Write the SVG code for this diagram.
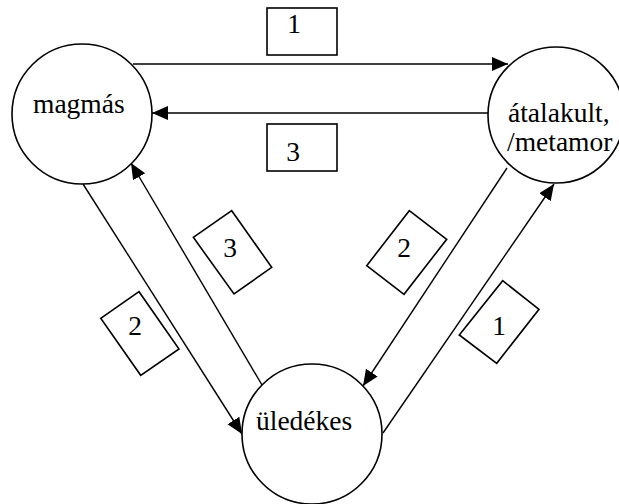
<svg xmlns="http://www.w3.org/2000/svg" width="619" height="504" viewBox="0 0 619 504">
<style>
.node{fill:#fff;stroke:#000;stroke-width:1.6}
text{font-family:'Liberation Serif','Times New Roman',Times,'DejaVu Serif',serif;font-size:27.5px;fill:#000}
.box{fill:#fff;stroke:#000;stroke-width:1.6}
.num{text-anchor:middle}
.edge{stroke:#000;stroke-width:1.4;fill:none;marker-end:url(#arr)}
</style>
<defs>
<marker id="arr" markerUnits="userSpaceOnUse" markerWidth="17" markerHeight="15" refX="16" refY="7" orient="auto">
<path d="M0,0 L16,7 L0,14 z" fill="#000"/>
</marker>
</defs>
<rect width="619" height="504" fill="#fff"/>
<g id="connectors">
<line class="edge" x1="133" y1="64" x2="508" y2="64"/>
<line class="edge" x1="488" y1="113" x2="152" y2="113"/>
<line class="edge" x1="83" y1="184" x2="242" y2="434"/>
<line class="edge" x1="262" y1="385" x2="131" y2="163"/>
<line class="edge" x1="507" y1="168" x2="363" y2="386"/>
<line class="edge" x1="383" y1="433" x2="554" y2="184"/>
</g>
<g id="node-magmas">
<circle class="node" cx="82" cy="114" r="70"/>
<text x="33" y="113">magmás</text>
</g>
<g id="node-atalakult">
<circle class="node" cx="556" cy="115" r="68"/>
<text x="508" y="122">átalakult,</text>
<text x="507" y="151">/metamor</text>
</g>
<g id="node-uledekes">
<circle class="node" cx="312" cy="434" r="70"/>
<text x="256" y="430">üledékes</text>
</g>
<g id="label-top-1">
<rect class="box" x="267" y="8" width="70" height="47"/>
<text class="num" x="294" y="33">1</text>
</g>
<g id="label-top-3">
<rect class="box" x="267" y="124" width="70" height="47"/>
<text class="num" x="293" y="161">3</text>
</g>
<g id="label-left-3">
<polygon class="box" points="193.3,237.3 231.7,210.7 271.7,267.3 234,294"/>
<text class="num" x="230" y="256.7">3</text>
</g>
<g id="label-right-2">
<polygon class="box" points="366.7,265.7 409.3,210.7 446.7,239.3 404,294.3"/>
<text class="num" x="404" y="256.7">2</text>
</g>
<g id="label-left-2">
<polygon class="box" points="100.7,318.3 139,291.7 179,349 140.7,375.3"/>
<text class="num" x="135" y="335">2</text>
</g>
<g id="label-right-1">
<polygon class="box" points="459.3,335 502.7,280.7 539,309.3 496.7,363.3"/>
<text class="num" x="499" y="335">1</text>
</g>
</svg>
